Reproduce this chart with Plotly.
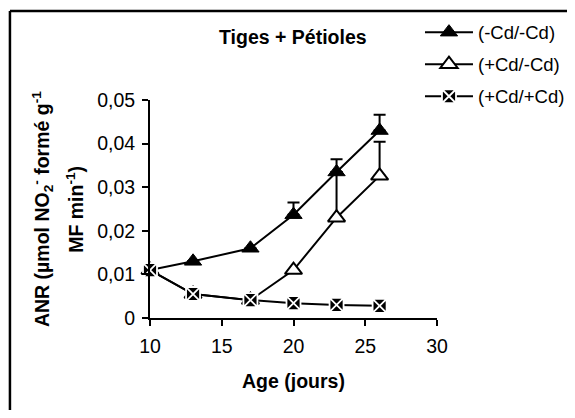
import plotly.graph_objects as go

days = [10, 13, 17, 20, 23, 26]
s1_name = "(-Cd/-Cd)"
s1_vals = [0.011, 0.013, 0.016, 0.0237, 0.0335, 0.043]
s1_err = [0.0, 0.0, 0.0, 0.0028, 0.0029, 0.0036]
s2_name = "(+Cd/-Cd)"
s2_vals = [0.011, 0.0055, 0.0041, 0.011, 0.023, 0.0326]
s2_err = [0.0, 0.0, 0.0, 0.0, 0.0105, 0.0078]
s3_name = "(+Cd/+Cd)"
s3_vals = [0.011, 0.0055, 0.0041, 0.0034, 0.003, 0.0028]

FONT = "Liberation Sans, Arial, sans-serif"
FS = 19.5

fig = go.Figure()
fig.add_trace(go.Scatter(
    x=days, y=s1_vals, name=s1_name, mode="lines+markers", legendgroup="a",
    line=dict(color="black", width=2),
    marker=dict(symbol="triangle-up", size=15, color="black", line=dict(color="black", width=1)),
    error_y=dict(type="data", array=s1_err, arrayminus=[0]*6, symmetric=False,
                 color="black", thickness=2, width=6),
    cliponaxis=False))
fig.add_trace(go.Scatter(
    x=days, y=s2_vals, name=s2_name, mode="lines+markers", legendgroup="b",
    line=dict(color="black", width=2),
    marker=dict(symbol="triangle-up", size=15, color="white", line=dict(color="black", width=2)),
    error_y=dict(type="data", array=s2_err, arrayminus=[0]*6, symmetric=False,
                 color="black", thickness=2, width=6),
    cliponaxis=False))
fig.add_trace(go.Scatter(
    x=days, y=s3_vals, name=s3_name, mode="lines+markers", legendgroup="c",
    line=dict(color="black", width=2),
    marker=dict(symbol="square-x", size=14, color="black", line=dict(color="white", width=1.8)),
    cliponaxis=False))

fig.update_layout(
    width=559, height=402,
    margin=dict(l=142, r=130, t=92, b=92, autoexpand=False),
    paper_bgcolor="white", plot_bgcolor="white",
    font=dict(family=FONT, size=FS, color="black"),
    showlegend=True,
    legend=dict(xref="container", yref="container", x=0.737, y=0.986,
                xanchor="left", yanchor="top",
                font=dict(size=18.5), bgcolor="rgba(0,0,0,0)",
                tracegroupgap=5, itemwidth=48),
    xaxis=dict(range=[10, 30], tickvals=[10, 15, 20, 25, 30], showgrid=False, zeroline=False,
               showline=True, linecolor="black", linewidth=2, ticks="outside",
               ticklen=6, tickwidth=2, tickcolor="black", ticklabelstandoff=4,
               title=dict(text="<b>Age (jours)</b>", font=dict(size=FS), standoff=18)),
    yaxis=dict(range=[0, 0.05], tickvals=[0, 0.01, 0.02, 0.03, 0.04, 0.05],
               ticktext=["0", "0,01", "0,02", "0,03", "0,04", "0,05"],
               showgrid=False, zeroline=False,
               showline=True, linecolor="black", linewidth=2, ticks="outside",
               ticklen=6, tickwidth=2, tickcolor="black", ticklabelstandoff=3),
    shapes=[
        dict(type="line", xref="paper", yref="paper", x0=-0.488, x1=-0.488, y0=-0.45, y1=1.408,
             line=dict(color="black", width=2.5)),
        dict(type="line", xref="paper", yref="paper", x0=-0.488, x1=1.46, y0=1.408, y1=1.408,
             line=dict(color="black", width=2.5)),
    ],
    annotations=[
        dict(text="<b>Tiges + Pétioles</b>", xref="paper", yref="paper", x=0.497, y=1.29,
             showarrow=False, font=dict(size=FS), xanchor="center", yanchor="middle"),
        dict(text="<b>ANR (µmol NO<sub>2</sub><sup>-</sup> formé g<sup>-1</sup></b>",
             xref="paper", yref="paper", x=-0.376, y=0.5, textangle=-90,
             showarrow=False, font=dict(size=FS), xanchor="center", yanchor="middle"),
        dict(text="<b>MF min<sup>-1</sup>)</b>",
             xref="paper", yref="paper", x=-0.262, y=0.5, textangle=-90,
             showarrow=False, font=dict(size=FS), xanchor="center", yanchor="middle"),
    ],
)

fig.write_html("out.html")
